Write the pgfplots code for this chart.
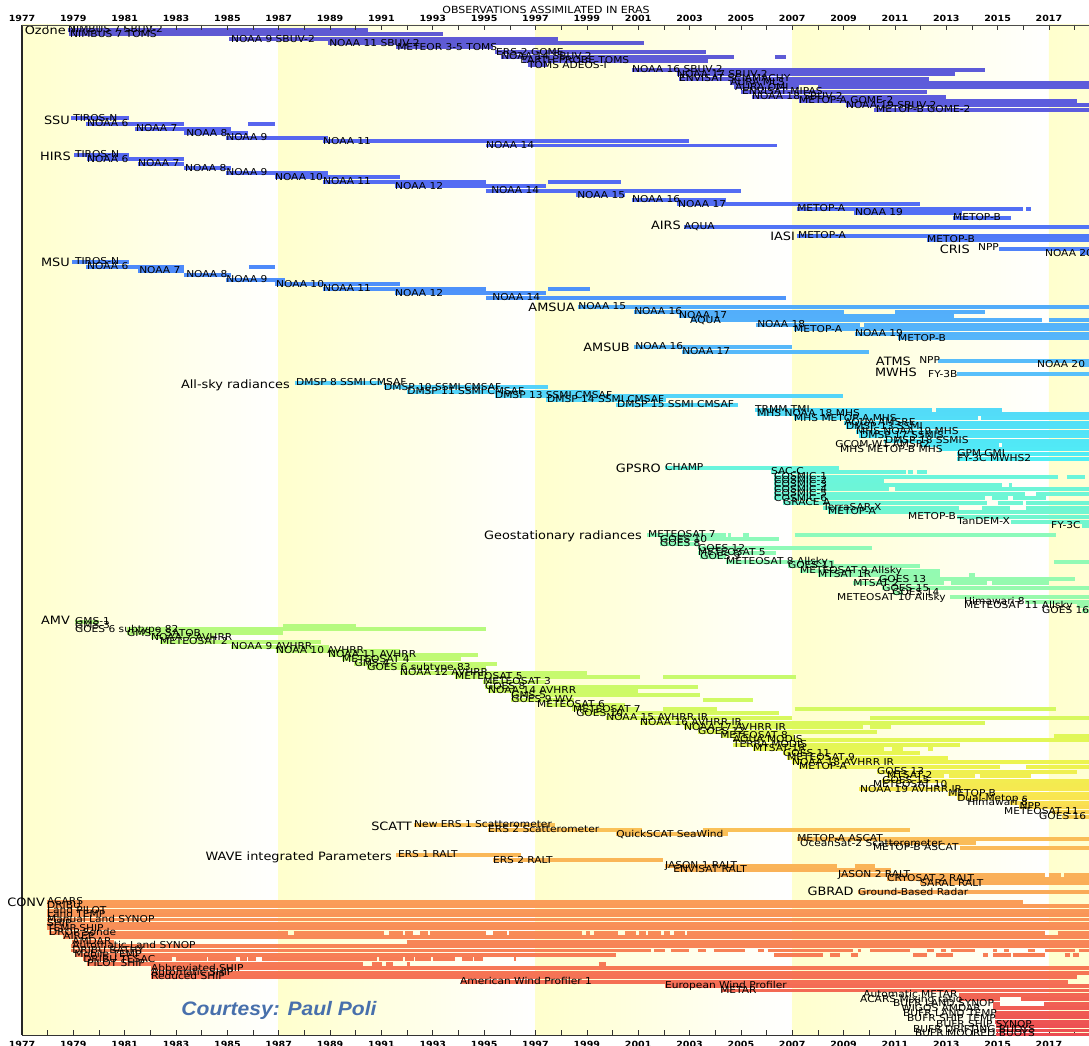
\documentclass[border=0pt]{standalone}
\usepackage{pgfplots}
\pgfplotsset{compat=1.18}
\usepackage{pgfplotstable}
\usepackage{fontspec}
\setmainfont[FakeStretch=1.12]{DejaVu Sans}
\newfontfamily\courtfont[FakeStretch=1.08]{Liberation Sans}
\definecolor{bandyellow}{RGB}{255,255,205}
\definecolor{courtesyblue}{RGB}{72,112,172}
\newcommand{\bl}[3]{\node[anchor=mid west,inner sep=0pt,font=\fontsize{9.5}{10}\selectfont] at (axis cs:#1,#2) {#3};}
\newcommand{\gl}[3]{\node[anchor=mid east,inner sep=0pt,font=\fontsize{11.5}{12}\selectfont] at (axis cs:#1,#2) {#3};}

\pgfplotstableread{
x1 x2 y
1978.78 1990.49 30
1978.85 1993.40 34
1985.08 1997.88 39
1988.90 2001.23 42.7
1991.57 1995.34 47.3
1995.42 2003.66 52.3
1995.64 2004.73 56.7
2006.33 2006.74 56.7
1996.51 2003.72 61
1996.71 1997.45 65
2000.76 2014.50 70
2002.51 2013.34 74
2002.59 2012.33 78.7
2004.58 2019 83.3
2004.73 2007.26 87.3
2008.00 2019 87.3
2005.00 2012.25 91.7
2005.43 2012.99 96.7
2007.26 2018.09 101
2009.08 2019 105.3
2010.20 2019 110
1978.91 1981.15 118.3
1979.49 1983.31 123.7
1985.82 1986.84 123.7
1981.42 1985.14 129
1983.31 1985.82 133.3
1984.95 1988.91 137.7
1988.72 2002.98 141.3
1995.07 2006.41 145.5
1979.03 1981.15 155
1979.53 1983.31 159.3
1981.52 1983.31 164
1983.31 1985.14 168.3
1984.95 1988.91 173
1986.84 1991.74 177.3
1988.72 1995.07 181.7
1997.49 2000.32 181.7
1991.51 1997.41 186.3
1995.07 2004.99 190.7
1998.58 2000.50 195.3
2000.76 2004.41 200
2002.51 2011.98 204.3
2007.19 2016.00 208.7
2016.12 2016.30 208.7
2009.40 2013.61 213
2013.26 2015.52 218
2002.78 2019 226.7
2007.19 2019 235.7
2012.25 2019 240
2015.04 2019 249
2018.20 2019 253.3
1978.95 1981.15 261.7
1979.49 1983.31 266.7
1985.84 1986.84 266.7
1981.52 1983.31 271
1983.31 1985.14 275
1984.95 1987.24 280
1986.84 1991.74 284.3
1988.72 1995.07 289
1997.49 1999.12 289
1991.51 1997.41 293.3
1995.07 2006.75 297.7
1998.66 2019 306.7
2000.82 2009.02 311.7
2011.00 2014.50 311.7
2002.59 2013.30 316
2003.06 2016.73 320.3
2017.00 2019 320.3
2005.60 2009.64 325
2009.80 2019 325
2007.05 2019 329.3
2009.44 2019 333.7
2011.12 2019 338.3
2000.85 2007.00 347.3
2002.71 2009.99 351.7
2012.68 2019 360.7
2018.20 2019 365
2013.42 2019 374.3
1987.65 1991.02 383.3
1991.10 1997.49 387.3
1991.98 1999.50 391.7
1995.42 2008.98 396
1997.40 2002.10 400
2000.14 2004.89 405
2005.55 2012.46 410
2012.60 2015.17 410
2005.63 2019 414
2007.05 2014.23 418.3
2014.35 2019 418.3
2009.02 2019 422.7
2009.09 2019 426.7
2009.48 2019 431.7
2009.62 2019 436
2010.57 2019 440.7
2012.00 2015.04 445
2015.17 2019 445
2012.70 2019 449.3
2013.42 2019 454
2013.42 2019 459
2002.04 2008.81 468.3
2006.17 2011.45 471.7
2011.51 2011.70 471.7
2011.86 2012.25 471.7
2006.29 2017.34 476.7
2017.70 2018.42 476.7
2006.29 2010.57 481
2006.29 2015.17 485.3
2015.44 2015.56 485.3
2006.29 2010.77 489.3
2011.00 2019 489.3
2006.29 2016.05 494
2016.50 2019 494
2006.29 2014.50 498.3
2014.80 2015.40 498.3
2015.60 2016.90 498.3
2006.64 2014.60 503.3
2015.00 2016.00 503.3
2016.10 2019 503.3
2008.20 2013.50 507.7
2014.40 2015.50 507.7
2016.10 2019 507.7
2008.39 2019 512.3
2013.40 2019 516.7
2015.52 2019 521.7
2018.30 2019 526
2001.36 2004.41 535
2004.50 2004.60 535
2005.10 2005.30 535
2007.09 2017.27 535
2001.85 2006.48 539.3
2001.85 2003.33 544
2003.33 2010.09 548.3
2003.33 2006.37 552.7
2003.41 2004.41 557
2004.41 2008.61 561.7
2017.19 2019 561.7
2006.83 2011.98 566
2007.32 2012.74 570.7
2008.00 2012.74 575
2013.90 2014.10 575
2010.37 2018.01 579.3
2009.35 2012.90 583.3
2013.20 2014.60 583.3
2014.80 2017.00 583.3
2010.50 2019 588.3
2010.91 2011.30 592.7
2013.14 2019 597.3
2016.05 2019 601.7
2018.09 2019 606
2018.30 2019 610.7
1979.05 1980.00 621.7
1987.17 1990.01 625.7
1981.09 1995.07 629
1981.09 1987.17 633.3
1982.02 1984.48 637.3
1982.37 1988.66 642.3
1985.14 1988.94 646.7
1986.89 1991.74 651
1988.94 1994.76 655
1989.46 1994.08 659.3
1989.95 1995.50 663.7
1990.43 1995.07 668.3
1991.74 1999.01 672.7
1993.86 2001.09 676.7
2001.97 2007.15 676.7
1994.96 1997.40 682
1995.03 2003.33 686.7
1995.15 2000.99 691
1996.05 2003.41 695.3
1996.05 1998.50 700
2003.52 2005.49 700
1997.40 2000.50 705
1998.42 2001.00 709.3
2001.97 2004.07 709.3
2007.09 2017.27 709.3
1998.80 2006.48 713.3
1999.75 2006.99 718.3
2010.03 2019 718.3
2001.09 2014.50 722.7
2002.78 2009.76 727.3
2010.03 2010.85 727.3
2003.33 2010.30 731.7
2004.21 2007.05 736
2017.19 2019 736
2004.68 2019 740
2004.68 2013.53 745
2005.49 2010.57 749.3
2010.90 2011.30 749.3
2012.30 2012.50 749.3
2006.64 2011.98 753.3
2006.78 2013.07 757.7
2006.99 2019 762.3
2007.25 2015.09 766.7
2016.10 2019 766.7
2010.30 2018.09 771.7
2010.69 2012.90 776
2013.10 2014.10 776
2014.30 2016.30 776
2010.50 2019 780.7
2012.90 2019 785
2009.62 2019 789.3
2013.07 2019 794
2013.42 2019 798.3
2015.50 2019 802.7
2015.85 2019 806.7
2017.10 2019 811.7
2017.50 2019 816.7
1992.25 1997.76 825
1995.15 2001.15 830
2003.52 2011.59 830
2000.14 2004.50 834
2007.19 2019 839.3
2010.70 2014.16 843.3
2013.53 2019 848.3
1991.57 1996.44 855
1995.34 2001.97 860
2002.04 2008.74 866
2009.44 2010.22 866
2002.38 2010.85 870
2008.81 2016.86 875
2017.00 2017.45 875
2017.60 2019 875
2010.69 2019 879
2011.98 2019 883.3
2009.56 2019 892.3
1977.97 2016.00 901.7
1977.97 2019 906.1
1977.97 2019 910.6
1977.97 2019 915.0
1977.97 2019 919.5
1977.97 2019 923.9
1977.97 2019 928.3
1978.05 1987.38 932.8
1987.58 1991.10 932.8
1991.30 1991.84 932.8
1991.92 1992.23 932.8
1992.50 1992.80 932.8
1992.88 1995.07 932.8
1995.35 1995.90 932.8
1995.98 1998.83 932.8
1998.97 1999.12 932.8
1999.27 2000.21 932.8
2000.48 2000.91 932.8
2001.03 2001.30 932.8
2001.40 2001.90 932.8
2002.00 2002.25 932.8
2002.40 2002.82 932.8
2002.92 2016.83 932.8
2017.34 2019 932.8
1978.58 2019 937.2
1978.95 1980.60 941.7
1991.98 2019 941.7
1978.91 2019 946.1
1978.91 2001.50 950.5
2001.63 2002.04 950.5
2002.28 2002.98 950.5
2003.33 2003.66 950.5
2003.94 2005.16 950.5
2005.67 2005.90 950.5
2006.04 2009.35 950.5
2009.56 2009.68 950.5
2010.03 2011.59 950.5
2012.25 2012.53 950.5
2012.80 2013.00 950.5
2013.20 2014.10 950.5
2014.82 2014.97 950.5
2015.25 2015.44 950.5
2016.18 2016.45 950.5
2016.86 2018.00 950.5
2018.15 2019 950.5
1979.05 2000.14 955.0
2006.29 2008.20 955.0
2008.47 2008.88 955.0
2009.29 2009.56 955.0
2011.72 2012.25 955.0
2012.60 2013.28 955.0
2014.43 2014.62 955.0
2014.82 2015.52 955.0
2015.58 2016.86 955.0
2017.61 2017.82 955.0
2017.94 2018.15 955.0
1979.39 1982.84 959.4
1982.98 1984.20 959.4
1984.26 1985.35 959.4
1985.48 1985.76 959.4
1985.82 1986.10 959.4
1986.36 1990.83 959.4
1990.90 1991.85 959.4
1991.92 1992.25 959.4
1992.32 1992.93 959.4
1993.00 1993.88 959.4
1994.15 1994.55 959.4
1994.62 1994.96 959.4
1996.18 1996.25 959.4
1979.53 1990.28 963.9
1990.63 1991.02 963.9
1991.18 1991.45 963.9
1991.98 1992.10 963.9
1999.47 1999.75 963.9
1982.02 2019 968.3
1982.02 2019 972.7
1982.02 2018.09 977.2
1994.08 2017.74 981.6
2002.04 2019 986.1
2004.21 2019 990.5
2013.48 2019 994.9
2013.48 2015.09 999.4
2015.91 2019 999.4
2014.82 2015.09 1003.8
2016.81 2019 1003.8
2014.82 2019 1008.3
2014.90 2019 1012.7
2014.90 2019 1017.1
2014.90 2019 1021.6
2014.95 2019 1026.0
2014.95 2019 1030.5
2014.95 2019 1034.9
}\bars

\begin{document}
\begin{tikzpicture}
\begin{axis}[
  at={(22pt,10pt)}, anchor=south west,
  scale only axis, width=1075pt, height=1010pt,
  xmin=1977, xmax=2018.87, ymin=25, ymax=1035, y dir=reverse,
  ytick=\empty,
  xtick={1977,1979,...,2017},
  xticklabels={1977,1979,1981,1983,1985,1987,1989,1991,1993,1995,1997,1999,2001,2003,2005,2007,2009,2011,2013,2015,2017},
  minor xtick={1978,1980,...,2018},
  tick align=inside, major tick length=5pt, minor tick length=5pt,
  xtick pos=both, xticklabel pos=lower,
  ticklabel style={font=\fontsize{8.5}{9}\selectfont\bfseries},
  xticklabel style={yshift=-3pt},
  tick style={black!80, line width=0.6pt},
  axis line style={black!80, line width=0.9pt},
  clip mode=individual,
  set layers,
  colormap={era}{rgb255(25pt)=(95,90,210) rgb255(112pt)=(92,92,222) rgb255(118pt)=(88,100,238) rgb255(220pt)=(82,112,245) rgb255(258pt)=(78,135,250) rgb255(300pt)=(78,150,250) rgb255(305pt)=(82,172,250) rgb255(376pt)=(88,192,250) rgb255(382pt)=(85,208,250) rgb255(460pt)=(80,238,245) rgb255(466pt)=(105,245,222) rgb255(527pt)=(115,246,205) rgb255(533pt)=(140,250,188) rgb255(612pt)=(155,250,168) rgb255(619pt)=(178,250,130) rgb255(700pt)=(208,250,100) rgb255(760pt)=(235,245,80) rgb255(800pt)=(250,228,80) rgb255(820pt)=(250,205,85) rgb255(824pt)=(250,195,88) rgb255(893pt)=(250,170,88) rgb255(900pt)=(250,158,88) rgb255(980pt)=(245,112,85) rgb255(1035pt)=(235,75,82)},
  point meta min=25, point meta max=1035,
]
\begin{pgfonlayer}{axis background}
\shade[left color=bandyellow,right color=white] (axis cs:1977,25) rectangle (axis cs:1987,1035);
\shade[left color=bandyellow,right color=white] (axis cs:1987,25) rectangle (axis cs:1997,1035);
\shade[left color=bandyellow,right color=white] (axis cs:1997,25) rectangle (axis cs:2007,1035);
\shade[left color=bandyellow,right color=white] (axis cs:2007,25) rectangle (axis cs:2017,1035);
\shade[left color=bandyellow,right color=bandyellow!82!white] (axis cs:2017,25) rectangle (axis cs:2018.87,1035);
\end{pgfonlayer}
\addplot[quiver={u=\thisrow{x2}-\thisrow{x1}, v=0, colored=mapped color, every arrow/.append style={line width=3.9pt}}, line width=3.9pt, point meta=\thisrow{y}] table[x=x1,y=y] {\bars};
\draw[line width=2.4pt, black!85] (rel axis cs:0,0) -- (rel axis cs:0,1);
% group labels
\gl{1978.71}{32}{Ozone}
\gl{1978.87}{122}{SSU}
\gl{1978.91}{158}{HIRS}
\gl{2002.67}{227}{AIRS}
\gl{2007.11}{238}{IASI}
\gl{2013.92}{251}{CRIS}
\gl{1978.87}{264}{MSU}
\gl{1998.54}{308.5}{AMSUA}
\gl{2000.68}{349}{AMSUB}
\gl{2011.63}{362.5}{ATMS}
\gl{2011.86}{374}{MWHS}
\gl{1987.44}{386}{All-sky radiances}
\gl{2001.89}{470}{GPSRO}
\gl{2001.15}{537}{Geostationary radiances}
\gl{1978.87}{622}{AMV}
\gl{1992.19}{828}{SCATT}
\gl{1991.41}{858}{WAVE integrated Parameters}
\gl{2009.40}{892.5}{GBRAD}
\gl{1977.90}{904}{CONV}
% ozone
\bl{1978.79}{30}{NIMBUS 7 SBUV-2}
\bl{1978.87}{34.5}{NIMBUS 7 TOMS}
\bl{1985.14}{39.5}{NOAA 9 SBUV-2}
\bl{1988.96}{43.5}{NOAA 11 SBUV-2}
\bl{1991.61}{48}{METEOR 3-5 TOMS}
\bl{1995.46}{52.5}{ERS-2 GOME}
\bl{1995.66}{57}{NOAA 14 SBUV-2}
\bl{1996.40}{61}{EARTH PROBE TOMS}
\bl{1996.71}{65.5}{TOMS ADEOS-I}
\bl{2000.76}{70}{NOAA 16 SBUV-2}
\bl{2002.51}{74.5}{NOAA 17 SBUV-2}
\bl{2002.59}{79}{ENVISAT SCIAMACHY}
\bl{2004.58}{83}{AURA MLS}
\bl{2004.77}{87.5}{AURA OMI}
\bl{2005.04}{92}{ENVISAT MIPAS}
\bl{2005.43}{96.5}{NOAA 18 SBUV-2}
\bl{2007.26}{101}{METOP-A GOME-2}
\bl{2009.09}{105.5}{NOAA 19 SBUV-2}
\bl{2010.26}{110}{METOP-B GOME-2}
% SSU
\bl{1978.99}{118.5}{TIROS-N}
\bl{1979.53}{124}{NOAA 6}
\bl{1981.44}{129}{NOAA 7}
\bl{1983.39}{133.5}{NOAA 8}
\bl{1984.95}{138}{NOAA 9}
\bl{1988.72}{142}{NOAA 11}
\bl{1995.07}{146}{NOAA 14}
% HIRS
\bl{1979.06}{155}{TIROS-N}
\bl{1979.53}{159.5}{NOAA 6}
\bl{1981.52}{164}{NOAA 7}
\bl{1983.35}{168.5}{NOAA 8}
\bl{1984.95}{173}{NOAA 9}
\bl{1986.85}{177.5}{NOAA 10}
\bl{1988.72}{182}{NOAA 11}
\bl{1991.53}{186.5}{NOAA 12}
\bl{1995.27}{191}{NOAA 14}
\bl{1998.62}{195.5}{NOAA 15}
\bl{2000.76}{200}{NOAA 16}
\bl{2002.55}{204.5}{NOAA 17}
\bl{2007.19}{209}{METOP-A}
\bl{2009.44}{213}{NOAA 19}
\bl{2013.26}{218}{METOP-B}
\bl{2002.78}{227}{AQUA}
\bl{2007.22}{236}{METOP-A}
\bl{2012.25}{240}{METOP-B}
\bl{2014.23}{248}{NPP}
\bl{2016.84}{253.5}{NOAA 20}
% MSU
\bl{1979.06}{262}{TIROS-N}
\bl{1979.53}{267}{NOAA 6}
\bl{1981.56}{271}{NOAA 7}
\bl{1983.39}{275}{NOAA 8}
\bl{1984.95}{280}{NOAA 9}
\bl{1986.89}{284.5}{NOAA 10}
\bl{1988.72}{289}{NOAA 11}
\bl{1991.53}{293.5}{NOAA 12}
\bl{1995.31}{298}{NOAA 14}
% AMSUA
\bl{1998.66}{306.5}{NOAA 15}
\bl{2000.84}{311.5}{NOAA 16}
\bl{2002.59}{316}{NOAA 17}
\bl{2003.02}{320.5}{AQUA}
\bl{2005.63}{325}{NOAA 18}
\bl{2007.07}{329.5}{METOP-A}
\bl{2009.44}{334}{NOAA 19}
\bl{2011.12}{338.5}{METOP-B}
\bl{2000.88}{347}{NOAA 16}
\bl{2002.71}{352}{NOAA 17}
\bl{2011.94}{360.5}{NPP}
\bl{2016.53}{365}{NOAA 20}
\bl{2012.29}{374.5}{FY-3B}
% all-sky
\bl{1987.67}{383}{DMSP 8 SSMI CMSAF}
\bl{1991.10}{387.5}{DMSP 10 SSMI CMSAF}
\bl{1992.00}{391.5}{DMSP 11 SSMI CMSAF}
\bl{1995.42}{396}{DMSP 13 SSMI CMSAF}
\bl{1997.45}{400}{DMSP 14 SSMI CMSAF}
\bl{2000.17}{405}{DMSP 15 SSMI CMSAF}
\bl{2005.55}{409.5}{TRMM TMI}
\bl{2005.63}{414}{MHS NOAA 18 MHS}
\bl{2007.07}{418.5}{MHS METOP-A MHS}
\bl{2009.02}{423}{AQUA AMSRE}
\bl{2009.09}{427}{DMSP 13 SSMI}
\bl{2009.48}{432}{MHS NOAA 19 MHS}
\bl{2009.64}{436}{DMSP 17 SSMIS}
\bl{2010.61}{441}{DMSP 18 SSMIS}
\bl{2008.67}{445}{GCOM-W1 AMSR2}
\bl{2008.86}{450}{MHS METOP-B MHS}
\bl{2013.42}{454}{GPM GMI}
\bl{2013.42}{459}{FY-3C MWHS2}
% GPSRO
\bl{2002.04}{467.5}{CHAMP}
\bl{2006.17}{472}{SAC-C}
\bl{2006.29}{476.5}{COSMIC-1}
\bl{2006.29}{481}{COSMIC-2}
\bl{2006.29}{485}{COSMIC-3}
\bl{2006.29}{489.5}{COSMIC-4}
\bl{2006.29}{494}{COSMIC-5}
\bl{2006.29}{498.5}{COSMIC-6}
\bl{2006.64}{503}{GRACE A}
\bl{2008.20}{508}{TerraSAR-X}
\bl{2008.39}{512}{METOP-A}
\bl{2011.51}{516.5}{METOP-B}
\bl{2013.42}{521.5}{TanDEM-X}
\bl{2017.08}{526}{FY-3C}
% geo
\bl{2001.38}{535}{METEOSAT 7}
\bl{2001.85}{539.5}{GOES 10}
\bl{2001.85}{544}{GOES 8}
\bl{2003.33}{548.5}{GOES 12}
\bl{2003.33}{553}{METEOSAT 5}
\bl{2003.41}{557}{GOES 9}
\bl{2004.42}{562}{METEOSAT 8 Allsky}
\bl{2006.83}{566}{GOES 11}
\bl{2007.30}{571}{METEOSAT 9 Allsky}
\bl{2008.00}{575}{MTSAT 1R}
\bl{2010.38}{579.5}{GOES 13}
\bl{2009.37}{583.5}{MTSAT 2}
\bl{2010.50}{588.5}{GOES 15}
\bl{2010.89}{593}{GOES 14}
\bl{2008.74}{597.5}{METEOSAT 10 Allsky}
\bl{2013.69}{602}{Himawari 8}
\bl{2013.69}{606}{METEOSAT 11 Allsky}
\bl{2016.73}{611}{GOES 16}
% AMV
\bl{1979.06}{621.5}{GMS-1}
\bl{1979.06}{625.5}{GMS-3}
\bl{1979.06}{629.5}{GOES 6 subtype 82}
\bl{1981.09}{633.5}{GMS-2 SATOB}
\bl{1982.02}{637.5}{NOAA 7 AVHRR}
\bl{1982.37}{642}{METEOSAT 2}
\bl{1985.14}{646.5}{NOAA 9 AVHRR}
\bl{1986.89}{651}{NOAA 10 AVHRR}
\bl{1988.92}{655}{NOAA 11 AVHRR}
\bl{1989.46}{659.5}{METEOSAT 4}
\bl{1989.95}{663.5}{GMS-4}
\bl{1990.44}{668}{GOES 6 subtype 83}
\bl{1991.72}{672.5}{NOAA 12 AVHRR}
\bl{1993.86}{677}{METEOSAT 5}
\bl{1994.96}{682}{METEOSAT 3}
\bl{1995.03}{686.5}{GOES 8}
\bl{1995.15}{691}{NOAA 14 AVHRR}
\bl{1996.05}{695.5}{GMS-5}
\bl{1996.05}{700}{GOES 9 WV}
\bl{1997.06}{705}{METEOSAT 6}
\bl{1998.46}{709.5}{METEOSAT 7}
\bl{1998.58}{713.5}{GOES 10}
\bl{1999.75}{718}{NOAA 15 AVHRR IR}
\bl{2001.07}{723}{NOAA 16 AVHRR IR}
\bl{2002.78}{727.5}{NOAA 17 AVHRR IR}
\bl{2003.33}{731.5}{GOES 12}
\bl{2004.19}{736}{METEOSAT 8}
\bl{2004.69}{740}{AQUA MODIS}
\bl{2004.69}{745}{TERRA MODIS}
\bl{2005.47}{749}{MTSAT-1R}
\bl{2006.64}{753.5}{GOES 11}
\bl{2006.80}{758}{METEOSAT 9}
\bl{2006.99}{762.5}{NOAA 18 AVHRR IR}
\bl{2007.26}{767}{METOP-A}
\bl{2010.30}{771.5}{GOES 13}
\bl{2010.69}{776}{MTSAT-2}
\bl{2010.50}{781}{GOES 15}
\bl{2010.14}{785}{METEOSAT 10}
\bl{2009.64}{789.5}{NOAA 19 AVHRR IR}
\bl{2013.07}{794}{METOP-B}
\bl{2013.42}{798.5}{Dual-Metop s}
\bl{2013.81}{803}{Himawari 8}
\bl{2015.85}{807}{NPP}
\bl{2015.25}{812}{METEOSAT 11}
\bl{2016.61}{817}{GOES 16}
% SCATT
\bl{1992.27}{824.5}{New ERS 1 Scatterometer}
\bl{1995.15}{830}{ERS 2 Scatterometer}
\bl{2000.14}{834.5}{QuickSCAT SeaWind}
\bl{2007.19}{839}{METOP-A ASCAT}
\bl{2007.30}{843.5}{OceanSat-2 Scatterometer}
\bl{2010.14}{848}{METOP-B ASCAT}
% WAVE
\bl{1991.64}{855}{ERS 1 RALT}
\bl{1995.34}{860.5}{ERS 2 RALT}
\bl{2002.04}{865.5}{JASON 1 RALT}
\bl{2002.36}{870}{ENVISAT RALT}
\bl{2008.78}{875}{JASON 2 RALT}
\bl{2010.69}{879}{CRYOSAT 2 RALT}
\bl{2011.98}{883.5}{SARAL RALT}
\bl{2009.56}{892.5}{Ground-Based Radar}
% CONV
\bl{1977.97}{901.7}{ACARS}
\bl{1977.97}{906.1}{DRIBU}
\bl{1977.97}{910.6}{Land PILOT}
\bl{1977.97}{915}{Land TEMP}
\bl{1977.97}{919.5}{Manual Land SYNOP}
\bl{1977.97}{923.9}{SHIP}
\bl{1977.97}{928.3}{TEMP SHIP}
\bl{1978.05}{932.8}{DROP Sonde}
\bl{1978.60}{937.2}{AIREP}
\bl{1978.95}{941.7}{AMDAR}
\bl{1978.95}{946.1}{Automatic Land SYNOP}
\bl{1978.95}{950.5}{DRIBU BATHY}
\bl{1979.03}{955}{Mobile TEMP}
\bl{1979.38}{959.4}{DRIBU TESAC}
\bl{1979.53}{963.9}{PILOT SHIP}
\bl{1982.02}{968.3}{Abbreviated SHIP}
\bl{1982.02}{972.7}{Automatic SHIP}
\bl{1982.02}{977.2}{Reduced SHIP}
\bl{1994.06}{981.6}{American Wind Profiler 1}
\bl{2002.04}{986.1}{European Wind Profiler}
\bl{2004.19}{990.5}{METAR}
\bl{2009.76}{994.9}{Automatic METAR}
\bl{2009.64}{999.4}{ACARS Mixing ratio}
\bl{2010.92}{1003.8}{BUFR LAND SYNOP}
\bl{2011.24}{1008.3}{WIGOS AMDAR}
\bl{2011.31}{1013.5}{BUFR LAND TEMP}
\bl{2011.47}{1018.5}{BUFR SHIP TEMP}
\bl{2012.60}{1025}{BUFR SHIP SYNOP}
\bl{2011.70}{1030}{BUFR DRIFTING BUOYS}
\bl{2011.78}{1034}{BUFR MOORED BUOYS}
\node[font={\courtfont\fontsize{19.5}{20}\selectfont\bfseries\itshape}, text=courtesyblue] at (axis cs:1987.01,1010) {Courtesy: Paul Poli};
\end{axis}
\begin{axis}[
  at={(22pt,10pt)}, anchor=south west,
  scale only axis, width=1075pt, height=1010pt,
  xmin=1977, xmax=2018.87, ymin=0, ymax=1,
  axis x line*=top, axis y line=none,
  xtick={1977,1979,...,2017},
  xticklabels={1977,1979,1981,1983,1985,1987,1989,1991,1993,1995,1997,1999,2001,2003,2005,2007,2009,2011,2013,2015,2017},
  minor xtick={1978,1980,...,2018},
  tick align=inside, major tick length=5pt, minor tick length=5pt,
  ticklabel style={font=\fontsize{8.5}{9}\selectfont\bfseries},
  tick style={black!80, line width=0.6pt},
  axis line style={black!70, line width=0.9pt},
]
\end{axis}
\node[font=\fontsize{9.8}{10}\selectfont] at (546pt,1035pt) {OBSERVATIONS ASSIMILATED IN ERAS};
\pgfresetboundingbox
\path[use as bounding box] (0,0) rectangle (1089pt,1045pt);
\end{tikzpicture}
\end{document}
